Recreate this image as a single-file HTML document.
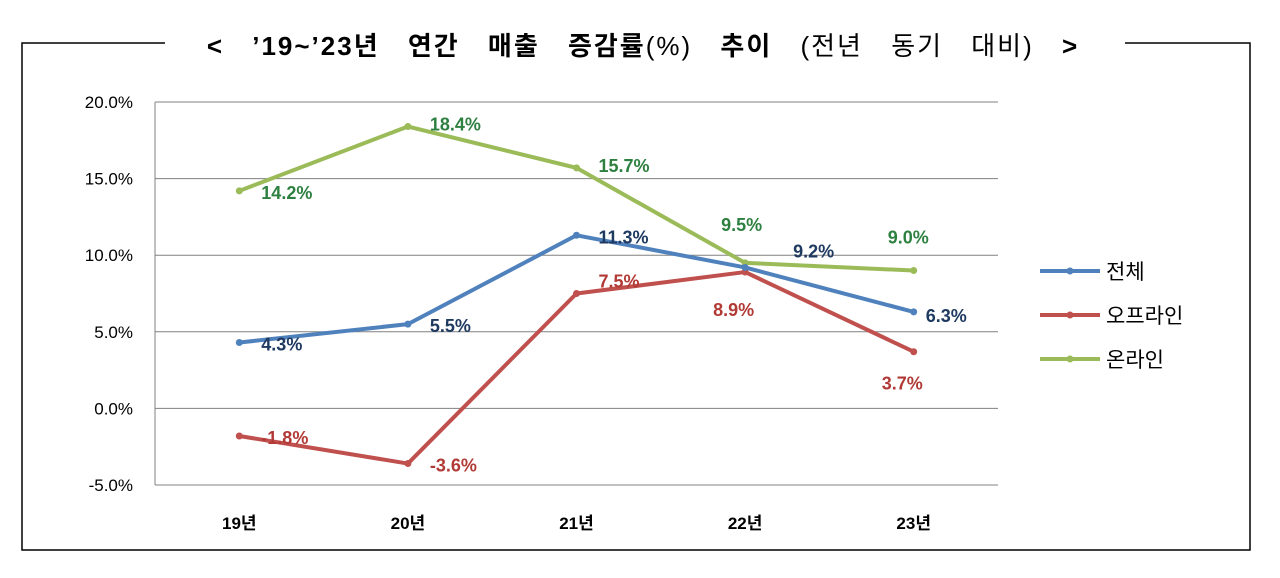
<!DOCTYPE html>
<html><head><meta charset="utf-8">
<style>
html,body{margin:0;padding:0;background:#fff;}
body{width:1280px;height:573px;overflow:hidden;position:relative;font-family:"Liberation Sans","Noto Sans CJK KR",sans-serif;}
</style></head>
<body>
<svg width="1280" height="573" xmlns="http://www.w3.org/2000/svg" id="svg">
<rect x="22" y="43" width="1228" height="507" fill="none" stroke="#000" stroke-width="1.5"/>
<rect x="165" y="25" width="960" height="40" fill="#fff"/>
<text x="643" y="55" text-anchor="middle" font-size="26" font-weight="bold" letter-spacing="2" word-spacing="19" font-family="'Liberation Sans','Noto Sans CJK KR',sans-serif">&lt; ’19~’23년 연간 매출 증감률<tspan font-weight="normal">(%)</tspan> 추이 <tspan font-weight="normal">(전년 동기 대비)</tspan> &gt;</text>
<g id="grid"></g><g id="series"></g><g id="legend"></g>
</svg>
<script>
const categories=['19년','20년','21년','22년','23년'];
const totalVals=[4.3,5.5,11.3,9.2,6.3];
const offlineVals=[-1.8,-3.6,7.5,8.9,3.7];
const onlineVals=[14.2,18.4,15.7,9.5,9.0];
const yTicks=[20,15,10,5,0,-5];
const seriesNames=['전체','오프라인','온라인'];
const NS='http://www.w3.org/2000/svg';
const plotL=155,plotR=998,yTop=102,yBot=485;
function xs(i){return plotL+(plotR-plotL)/categories.length*(i+0.5);}
function ys(v){return yTop+(20-v)/25*(yBot-yTop);}
function mk(tag,attrs,parent){const e=document.createElementNS(NS,tag);for(const k in attrs)e.setAttribute(k,attrs[k]);parent.appendChild(e);return e;}
const grid=document.getElementById('grid');
yTicks.forEach(t=>{
  const l=mk('line',{x1:plotL,x2:plotR,y1:ys(t),y2:ys(t),stroke:'#808080','stroke-width':1},grid);
  
  
  const tx=mk('text',{x:133,y:ys(t)+6,'text-anchor':'end','font-size':17,fill:'#000'},grid);
  tx.textContent=t.toFixed(1)+'%';
  
  
});
const ax=mk('line',{x1:plotL,x2:plotL,y1:yTop,y2:yBot,stroke:'#808080'},grid);


categories.forEach((c,i)=>{
  const tx=mk('text',{x:xs(i),y:529,'text-anchor':'middle','font-size':17,'font-weight':'bold'},grid);
  tx.textContent=c;
  
  
});
const colors=['#4f81bd','#c0504d','#9bbb59'];
const labelColors=['#1f3a60','#b23a36','#2e8040'];
const offsets=[
 [[22,8],[22,8],[22,8],[48,-10],[12,10]],
 [[22,8],[22,8],[22,-6],[-32,44],[-32,38]],
 [[22,8],[22,4],[22,4],[-24,-32],[-26,-27]]
];
const data=[totalVals,offlineVals,onlineVals];
const sg=document.getElementById('series');
[2,1,0].forEach(s=>{
  const pts=data[s].map((v,i)=>xs(i)+','+ys(v)).join(' ');
  const pl=mk('polyline',{points:pts,fill:'none',stroke:colors[s],'stroke-width':4,'stroke-linejoin':'round'},sg);
  
  
  data[s].forEach((v,i)=>{
    const c=mk('circle',{cx:xs(i),cy:ys(v),r:3.5,fill:colors[s]},sg);
    
    
  });
});
[0,1,2].forEach(s=>{
  data[s].forEach((v,i)=>{
    const t=mk('text',{x:xs(i)+offsets[s][i][0],y:ys(v)+offsets[s][i][1],'font-size':18,'font-weight':'bold',fill:labelColors[s]},sg);
    t.textContent=v.toFixed(1)+'%';
    
    
  });
});
const lg=document.getElementById('legend');
seriesNames.forEach((n,s)=>{
  const y=271+s*44;
  const l=mk('line',{x1:1040,x2:1100,y1:y,y2:y,stroke:colors[s],'stroke-width':4},lg);
  
  
  mk('circle',{cx:1070,cy:y,r:3.5,fill:colors[s]},lg);
  const t=mk('text',{x:1106,y:y+8,'font-size':21},lg);
  t.textContent=n;
  
  
});
</script>
</body></html>
